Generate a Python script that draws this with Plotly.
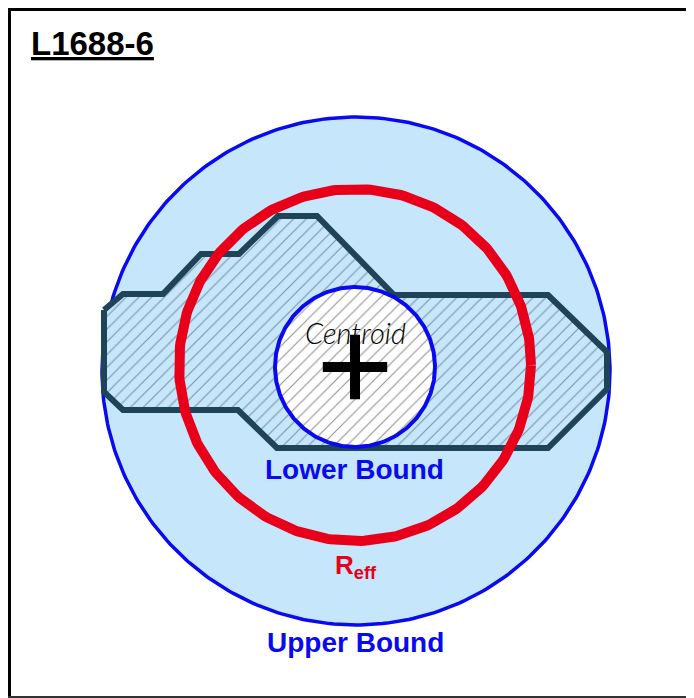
import numpy as np
import plotly.graph_objects as go

# ---- data (drawing units = page pixels, y grows downward) ----
title_text = "L1688-6"
polygon_x = [104, 123, 163, 201, 239, 278, 317, 394, 548, 607, 607, 548, 277, 238, 123, 104, 104]
polygon_y = [310, 294, 294, 254, 254, 216, 216, 295, 295, 352, 389, 448, 448, 410, 410, 392, 310]

upper_center = [356, 371]
upper_radius = 254
reff_center = [355, 365]
reff_radius = 176
lower_center = [355, 367]
lower_radius = 80
centroid_xy = [355, 367]

labels = ["Centroid", "Lower Bound", "R<sub>eff</sub>", "Upper Bound"]
label_x = [355, 354, 356, 355]
label_y = [332, 469, 566, 642]

W, H = 694, 698
OFF = 8  # page body margin


def circle(c, r, n=361):
    t = np.linspace(0, 2 * np.pi, n)
    return c[0] + r * np.cos(t), c[1] + r * np.sin(t)


fig = go.Figure()

# Upper bound circle
ux, uy = circle(upper_center, upper_radius)
fig.add_trace(go.Scatter(x=ux, y=uy, mode="lines", fill="toself",
                         fillcolor="#c5e6fb", line=dict(color="#0a0af0", width=3.5),
                         hoverinfo="skip"))

# Hatched region polygon
fig.add_trace(go.Scatter(x=polygon_x, y=polygon_y, mode="lines", fill="toself",
                         fillcolor="#c5e6fb",
                         fillpattern=dict(shape="/", bgcolor="#c5e6fb", fgcolor="#34454f",
                                          size=9, solidity=0.13),
                         line=dict(color="#1f4458", width=6),
                         hoverinfo="skip"))

# Lower bound circle (white with hatch)
lx, ly = circle(lower_center, lower_radius)
fig.add_trace(go.Scatter(x=lx, y=ly, mode="lines", fill="toself",
                         fillcolor="white",
                         fillpattern=dict(shape="/", bgcolor="white", fgcolor="#2a2a2a",
                                          size=9, solidity=0.13),
                         line=dict(color="#0a0af0", width=4),
                         hoverinfo="skip"))

# Reff circle
rx, ry = circle(reff_center, reff_radius)
fig.add_trace(go.Scatter(x=rx, y=ry, mode="lines",
                         line=dict(color="#e8001a", width=10),
                         hoverinfo="skip"))

# Centroid cross
fig.add_trace(go.Scatter(x=[centroid_xy[0]], y=[centroid_xy[1]], mode="markers",
                         marker=dict(symbol="cross-thin", size=46,
                                     line=dict(color="black", width=10)),
                         hoverinfo="skip"))

# Labels
fonts = [
    dict(family="Lato, Liberation Sans, Arial", size=29, color="black", style="italic", weight=300),
    dict(family="Liberation Sans, Arial", size=28, color="#0a0af0", weight="bold"),
    dict(family="Liberation Sans, Arial", size=26, color="#e8001a", weight="bold"),
    dict(family="Liberation Sans, Arial", size=28, color="#0a0af0", weight="bold"),
]
for t, x, y, f in zip(labels, label_x, label_y, fonts):
    fig.add_annotation(x=x, y=y, text=t, showarrow=False, font=f,
                       xanchor="center", yanchor="middle")

fig.add_annotation(x=29, y=43, text="<u>" + title_text + "</u>", showarrow=False,
                   font=dict(family="Liberation Sans, Arial", size=33, color="black", weight="bold"),
                   xanchor="left", yanchor="middle")

# Frame (left, top, bottom edges)
fig.add_shape(type="line", x0=9.5, y0=8, x1=9.5, y1=698,
              line=dict(color="black", width=3), layer="above")
fig.add_shape(type="line", x0=8, y0=9.5, x1=702, y1=9.5,
              line=dict(color="black", width=3), layer="above")
fig.add_shape(type="line", x0=8, y0=697, x1=702, y1=697,
              line=dict(color="#333333", width=2), layer="above")

fig.update_layout(
    width=W, height=H, margin=dict(l=0, r=0, t=0, b=0),
    paper_bgcolor="white", plot_bgcolor="white", showlegend=False,
    xaxis=dict(range=[OFF, W + OFF], visible=False, fixedrange=True),
    yaxis=dict(range=[H + OFF, OFF], visible=False, fixedrange=True),
)

fig.write_html("out.html")
